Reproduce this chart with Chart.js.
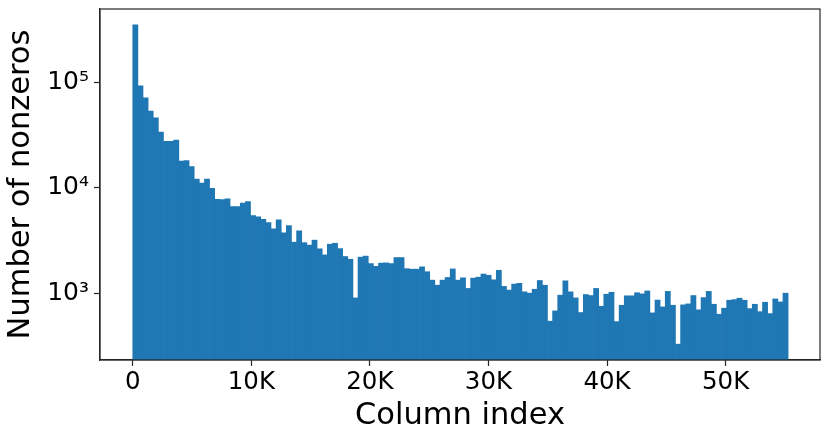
<!DOCTYPE html>
<html>
<head>
<meta charset="utf-8">
<script src="https://cdn.jsdelivr.net/npm/chart.js@4"></script>
<style>
html, body { margin: 0; padding: 0; background: #fff; }
#wrap { width: 830px; height: 439px; }
</style>
</head>
<body>
<div id="wrap"><canvas id="c"></canvas></div>
<script>
// histogram of nonzeros per column, 128 bins over 0..55.27K
const binWidth = 431.8;
const counts = [
    353000, 93000, 71600, 53500, 46300, 33800, 27700, 27700, 28400, 18000,
    18200, 15900, 12100, 11100, 12100, 9930, 7800, 7740, 7870, 6640,
    6640, 7160, 7420, 5460, 5310, 5040, 4680, 4080, 4970, 3740,
    4390, 3050, 3910, 3020, 2860, 3190, 2640, 2310, 2920, 2980,
    2650, 2230, 2100, 902, 2200, 2250, 1910, 1800, 1930, 1940,
    1910, 2180, 2180, 1710, 1690, 1690, 1780, 1600, 1330, 1190,
    1330, 1410, 1700, 1330, 1400, 1110, 1390, 1420, 1520, 1480,
    1340, 1650, 1160, 1070, 1220, 1240, 1030, 1000, 1090, 1320,
    1190, 542, 679, 957, 1310, 1030, 902, 655, 971, 950,
    1110, 751, 978, 1020, 537, 768, 944, 944, 1010, 985,
    1050, 650, 861, 741, 1040, 768, 328, 775, 791, 950,
    695, 908, 1040, 785, 631, 720, 857, 869, 896, 857,
    714, 785, 668, 820, 640, 882, 826, 1000
];
const xTicks = [0, 10000, 20000, 30000, 40000, 50000];
const yTicks = [1000, 10000, 100000];
const yTickLabels = ['10³', '10⁴', '10⁵'];

const points = counts.map((c, i) => ({ x: (i + 0.5) * binWidth, y: c }));

const frame = {
    id: 'frame',
    afterDraw(chart) {
        const a = chart.chartArea;
        const ctx = chart.ctx;
        ctx.save();
        ctx.strokeStyle = '#262626';
        ctx.lineWidth = 1.2;
        ctx.strokeRect(a.left, a.top, a.right - a.left, a.bottom - a.top);
        ctx.restore();
    }
};

const font = 'DejaVu Sans';

new Chart(document.getElementById('c'), {
    type: 'bar',
    data: {
        datasets: [{
            data: points,
            backgroundColor: '#1f77b4',
            borderWidth: 0,
            barPercentage: 1,
            categoryPercentage: 1,
        }]
    },
    options: {
        responsive: true,
        maintainAspectRatio: false,
        animation: false,
        layout: { padding: { top: 9, right: 10, left: 0, bottom: 0 } },
        plugins: {
            legend: { display: false },
            tooltip: { enabled: false }
        },
        scales: {
            x: {
                type: 'linear',
                min: -2763,
                max: 57960,
                offset: false,
                afterFit(scale) {
                    scale.height = 79;
                    scale.paddingLeft = 0;
                    scale.paddingRight = 0;
                },
                afterBuildTicks(scale) { scale.ticks = xTicks.map(v => ({ value: v })); },
                grid: {
                    display: true,
                    offset: false,
                    drawOnChartArea: false,
                    tickLength: 6,
                    tickColor: '#262626',
                    tickWidth: 1.2,
                },
                border: { display: true, color: '#262626', width: 1.2 },
                ticks: {
                    color: '#000',
                    font: { family: font, size: 24.5 },
                    padding: 2,
                    maxRotation: 0,
                    callback: v => v === 0 ? '0' : (v / 1000) + 'K'
                },
                title: {
                    display: true,
                    text: 'Column index',
                    color: '#000',
                    font: { family: font, size: 30.5 },
                    padding: { top: 0, bottom: 5 }
                }
            },
            y: {
                type: 'logarithmic',
                min: 232,
                max: 500000,
                afterFit(scale) {
                    scale.width = 100;
                    scale.paddingTop = 0;
                    scale.paddingBottom = 0;
                },
                afterBuildTicks(scale) { scale.ticks = yTicks.map(v => ({ value: v })); },
                grid: {
                    display: true,
                    drawOnChartArea: false,
                    tickLength: 6,
                    tickColor: '#262626',
                    tickWidth: 1.2,
                },
                border: { display: true, color: '#262626', width: 1.2 },
                ticks: {
                    color: '#000',
                    font: { family: font, size: 25 },
                    padding: 5,
                    callback: v => yTickLabels[yTicks.indexOf(v)]
                },
                title: {
                    display: true,
                    text: 'Number of nonzeros',
                    color: '#000',
                    font: { family: font, size: 30.5 },
                    padding: { top: 3, bottom: 0 }
                }
            }
        }
    },
    plugins: [frame]
});
</script>
</body>
</html>
